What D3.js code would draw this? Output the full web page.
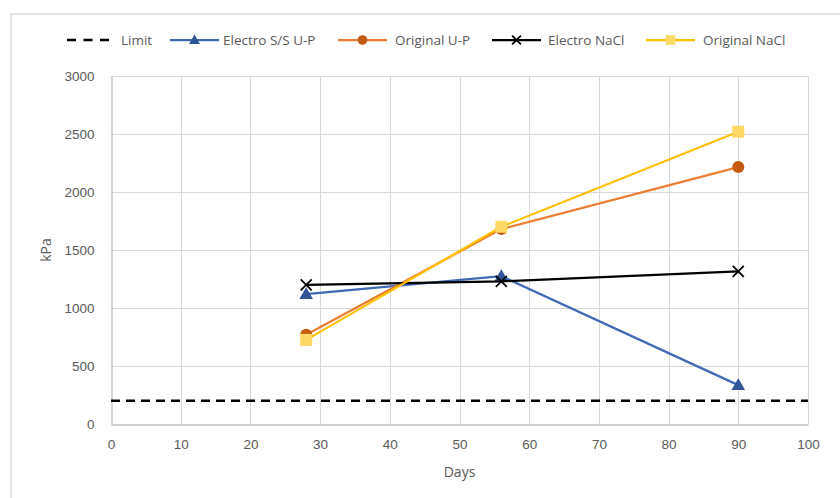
<!DOCTYPE html>
<html>
<head>
<meta charset="utf-8">
<script src="https://cdn.jsdelivr.net/npm/d3@7"></script>
<style>
  html, body { margin: 0; padding: 0; background: #fff; }
  svg { display: block; font-family: "Open Sans", "Noto Sans", sans-serif; }
</style>
</head>
<body>
<svg id="chart" width="840" height="498"></svg>
<script>
// Strength over curing time (kPa vs days)
const days = [28, 56, 90];
const limitDays = [0, 100];
const limitValues = [200, 200];
const electroSSUP = [1120, 1275, 335];
const originalUP = [770, 1680, 2215];
const electroNaCl = [1200, 1230, 1315];
const originalNaCl = [725, 1700, 2520];
const xTicks = [0, 10, 20, 30, 40, 50, 60, 70, 80, 90, 100];
const yTicks = [0, 500, 1000, 1500, 2000, 2500, 3000];

const series = [
  { name: "Limit", xs: limitDays, ys: limitValues, line: "#000", marker: null, dash: "9,6", width: 2.5 },
  { name: "Electro S/S U-P", xs: days, ys: electroSSUP, line: "#4068B4", fill: "#2F5597", marker: "triangle", width: 2.25 },
  { name: "Original U-P", xs: days, ys: originalUP, line: "#ED7D31", fill: "#C55A11", marker: "circle", width: 2.25 },
  { name: "Electro NaCl", xs: days, ys: electroNaCl, line: "#000", fill: "#000", marker: "cross", width: 2.25 },
  { name: "Original NaCl", xs: days, ys: originalNaCl, line: "#FFC000", fill: "#FFD966", marker: "square", width: 2.25 }
];

const svg = d3.select("#chart");
const margin = { left: 111, right: 32, top: 76, bottom: 74 };
const W = 840, H = 498;

const x = d3.scaleLinear().domain([0, 100]).range([margin.left, W - margin.right]);
const y = d3.scaleLinear().domain([0, 3000]).range([H - margin.bottom, margin.top]);

// chart frame (top and left edges visible)
svg.append("path").attr("d", `M11,${H}V14H${W}`)
  .attr("fill", "none").attr("stroke", "#E3E3E3").attr("stroke-width", 2);

// gridlines
svg.append("g").selectAll("line.hg").data(yTicks.slice(1)).join("line")
  .attr("x1", x(0)).attr("x2", x(100))
  .attr("y1", d => Math.round(y(d)) + 0.5).attr("y2", d => Math.round(y(d)) + 0.5)
  .attr("stroke", "#D9D9D9").attr("stroke-width", 1);
svg.append("g").selectAll("line.vg").data(xTicks.slice(1)).join("line")
  .attr("y1", y(0)).attr("y2", y(3000))
  .attr("x1", d => Math.round(x(d)) + 0.5).attr("x2", d => Math.round(x(d)) + 0.5)
  .attr("stroke", "#D9D9D9").attr("stroke-width", 1);

// axes
const xAxis = d3.axisBottom(x).tickValues(xTicks).tickSize(0).tickPadding(15).tickFormat(d3.format("d"));
const yAxis = d3.axisLeft(y).tickValues(yTicks).tickSize(0).tickPadding(17).tickFormat(d3.format("d"));
const gx = svg.append("g").attr("transform", `translate(0,${Math.round(y(0)) + 0.5})`).call(xAxis);
const gy = svg.append("g").attr("transform", `translate(${Math.round(x(0)) + 0.5},0)`).call(yAxis);
[gx, gy].forEach(g => {
  g.select(".domain").attr("stroke", "#BFBFBF").attr("stroke-width", 1.3);
  g.selectAll("text").attr("fill", "#595959").attr("font-size", 13.5);
});

// axis titles
svg.append("text").attr("x", x(50)).attr("y", 477).attr("text-anchor", "middle")
  .attr("fill", "#595959").attr("font-size", 14).text("Days");
svg.append("text").attr("transform", `translate(51,${y(1500)}) rotate(-90)`)
  .attr("text-anchor", "middle").attr("fill", "#595959").attr("font-size", 14).text("kPa");

// marker drawing (k scales the marker size)
function drawMarker(g, type, cx, cy, s, k = 1) {
  if (type === "triangle") {
    const sym = d3.symbol().type(d3.symbolTriangle).size(80 * k * k);
    g.append("path").attr("d", sym()).attr("transform", `translate(${cx},${cy + k})`).attr("fill", s.fill);
  } else if (type === "circle") {
    g.append("circle").attr("cx", cx).attr("cy", cy).attr("r", 6 * k).attr("fill", s.fill);
  } else if (type === "square") {
    const h = 6 * k;
    g.append("rect").attr("x", cx - h).attr("y", cy - h).attr("width", 2 * h).attr("height", 2 * h).attr("fill", s.fill);
  } else if (type === "cross") {
    const r = 5.5 * k;
    g.append("path").attr("d", `M${cx - r},${cy - r}L${cx + r},${cy + r}M${cx - r},${cy + r}L${cx + r},${cy - r}`)
      .attr("stroke", s.fill).attr("stroke-width", 1.8).attr("fill", "none");
  }
}

// series
const line = d3.line().x(d => x(d[0])).y(d => y(d[1]));
series.forEach(s => {
  const g = svg.append("g");
  const pts = s.xs.map((d, i) => [d, s.ys[i]]);
  g.append("path").attr("d", line(pts)).attr("fill", "none")
    .attr("stroke", s.line).attr("stroke-width", s.width)
    .attr("stroke-dasharray", s.dash || null);
  if (s.marker) pts.forEach(p => drawMarker(g, s.marker, x(p[0]), y(p[1]), s));
});

// legend
const legendItems = [
  { s: series[0], x0: 67, tx: 121 },
  { s: series[1], x0: 170, tx: 223 },
  { s: series[2], x0: 338, tx: 395 },
  { s: series[3], x0: 492, tx: 548 },
  { s: series[4], x0: 646, tx: 703 }
];
const lg = svg.append("g");
const ly = 40;
legendItems.forEach(it => {
  const s = it.s;
  lg.append("line").attr("x1", it.x0).attr("x2", it.x0 + 49).attr("y1", ly).attr("y2", ly)
    .attr("stroke", s.line).attr("stroke-width", s.width).attr("stroke-dasharray", s.dash ? "9,7.5" : null);
  if (s.marker) drawMarker(lg, s.marker, it.x0 + 24.5, ly, s, 0.8);
  lg.append("text").attr("x", it.tx).attr("y", ly).attr("dy", "0.35em")
    .attr("fill", "#595959").attr("font-size", 13.5).text(s.name);
});
</script>
</body>
</html>
